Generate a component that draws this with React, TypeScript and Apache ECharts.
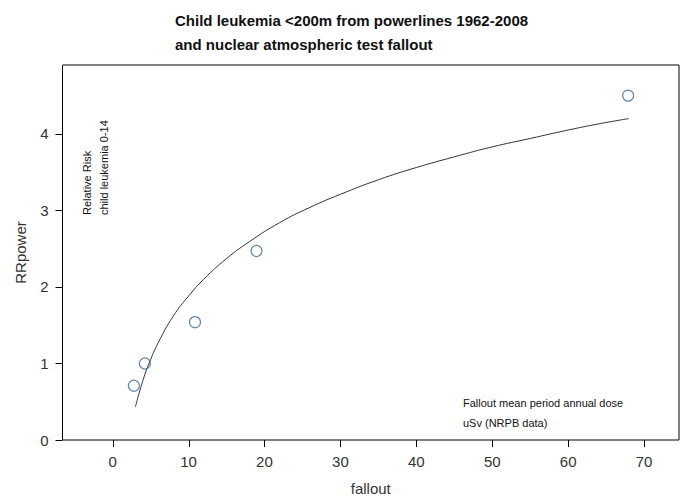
import React, { useEffect, useRef } from "react";
import * as echarts from "echarts";

const pointsFallout = [2.8, 4.25, 10.85, 18.95, 67.9];
const pointsRR = [0.71, 1.0, 1.54, 2.47, 4.5];

const curveFallout = [3, 4, 5, 6, 8, 10, 12, 15, 18, 22, 26, 30, 35, 40, 45, 50, 55, 60, 64, 68];
const curveRR = [0.43, 0.78, 1.05, 1.27, 1.62, 1.88, 2.1, 2.37, 2.59, 2.84, 3.04, 3.21, 3.4, 3.56, 3.7, 3.83, 3.94, 4.05, 4.13, 4.2];

const xTicks = [0, 10, 20, 30, 40, 50, 60, 70];
const yTicks = [0, 1, 2, 3, 4];

const X_MIN = -6.6;
const X_MAX = 74.6;
const Y_MIN = 0;
const Y_MAX = 4.9;

const FONT = "'Liberation Sans', Arial, sans-serif";
const TICK_LEN = 7;

export default function App() {
  const ref = useRef<HTMLDivElement>(null);
  useEffect(() => {
    if (!ref.current) return;
    const chart = echarts.init(ref.current, null, { renderer: "svg" });
    chart.setOption({
      animation: false,
      backgroundColor: "#ffffff",
      textStyle: { fontFamily: FONT },
      title: {
        text: "Child leukemia <200m from powerlines 1962-2008\nand nuclear atmospheric test fallout",
        left: 175,
        top: 8,
        padding: 0,
        textStyle: { fontSize: 15, fontWeight: "bold", color: "#111", lineHeight: 24, fontFamily: FONT },
      },
      grid: {
        left: 62.5,
        right: 5,
        top: 65,
        bottom: 55,
        show: true,
        borderColor: "#000",
        borderWidth: 1,
        backgroundColor: "transparent",
      },
      xAxis: {
        type: "value",
        min: X_MIN,
        max: X_MAX,
        name: "fallout",
        nameLocation: "middle",
        nameGap: 41,
        nameTextStyle: { fontSize: 15, color: "#333", fontFamily: FONT },
        axisLine: { show: false, onZero: false },
        splitLine: { show: false },
        axisTick: { show: false },
        axisLabel: { show: true, fontSize: 15, color: "#333", margin: 14, customValues: xTicks, fontFamily: FONT },
      },
      yAxis: {
        type: "value",
        min: Y_MIN,
        max: Y_MAX,
        name: "RRpower",
        nameLocation: "middle",
        nameGap: 35,
        nameRotate: 90,
        nameTextStyle: { fontSize: 15, color: "#333", fontFamily: FONT },
        axisLine: { show: false, onZero: false },
        splitLine: { show: false },
        axisTick: { show: false },
        axisLabel: { show: true, fontSize: 15, color: "#333", margin: 14, customValues: yTicks, fontFamily: FONT },
      },
      series: [
        {
          type: "line",
          data: curveFallout.map((x, i) => [x, curveRR[i]]),
          showSymbol: false,
          smooth: true,
          lineStyle: { color: "#333", width: 1 },
          z: 2,
        },
        {
          type: "scatter",
          data: pointsFallout.map((x, i) => [x, pointsRR[i]]),
          symbol: "circle",
          symbolSize: 11,
          itemStyle: { color: "transparent", borderColor: "#3e6a9a", borderWidth: 1.2 },
          z: 3,
        },
      ],
    });

    const texts: any[] = [
      {
        type: "text",
        x: 87,
        y: 215,
        rotation: Math.PI / 2,
        style: { text: "Relative Risk", fontSize: 11, fill: "#111", fontFamily: FONT, align: "left", verticalAlign: "middle" },
      },
      {
        type: "text",
        x: 104,
        y: 215,
        rotation: Math.PI / 2,
        style: { text: "child leukemia 0-14", fontSize: 11, fill: "#111", fontFamily: FONT, align: "left", verticalAlign: "middle" },
      },
      {
        type: "text",
        x: 463,
        y: 403,
        style: { text: "Fallout mean period annual dose", fontSize: 11, fill: "#111", fontFamily: FONT, align: "left", verticalAlign: "middle" },
      },
      {
        type: "text",
        x: 463,
        y: 423,
        style: { text: "uSv (NRPB data)", fontSize: 11, fill: "#111", fontFamily: FONT, align: "left", verticalAlign: "middle" },
      },
    ];

    const tickMarks: any[] = [];
    xTicks.forEach((v) => {
      const p = chart.convertToPixel({ gridIndex: 0 }, [v, Y_MIN]) as number[];
      if (p && isFinite(p[0])) {
        tickMarks.push({
          type: "line",
          silent: true,
          shape: { x1: Math.round(p[0]) + 0.5, y1: p[1], x2: Math.round(p[0]) + 0.5, y2: p[1] + TICK_LEN },
          style: { stroke: "#000", lineWidth: 1 },
        });
      }
    });
    yTicks.forEach((v) => {
      const p = chart.convertToPixel({ gridIndex: 0 }, [X_MIN, v]) as number[];
      if (p && isFinite(p[1])) {
        tickMarks.push({
          type: "line",
          silent: true,
          shape: { x1: p[0] - TICK_LEN, y1: Math.round(p[1]) + 0.5, x2: p[0], y2: Math.round(p[1]) + 0.5 },
          style: { stroke: "#000", lineWidth: 1 },
        });
      }
    });

    chart.setOption({ graphic: [...texts, ...tickMarks] });
    return () => chart.dispose();
  }, []);
  return <div ref={ref} style={{ width: 684, height: 501, position: "absolute", left: 0, top: 0 }} />;
}
